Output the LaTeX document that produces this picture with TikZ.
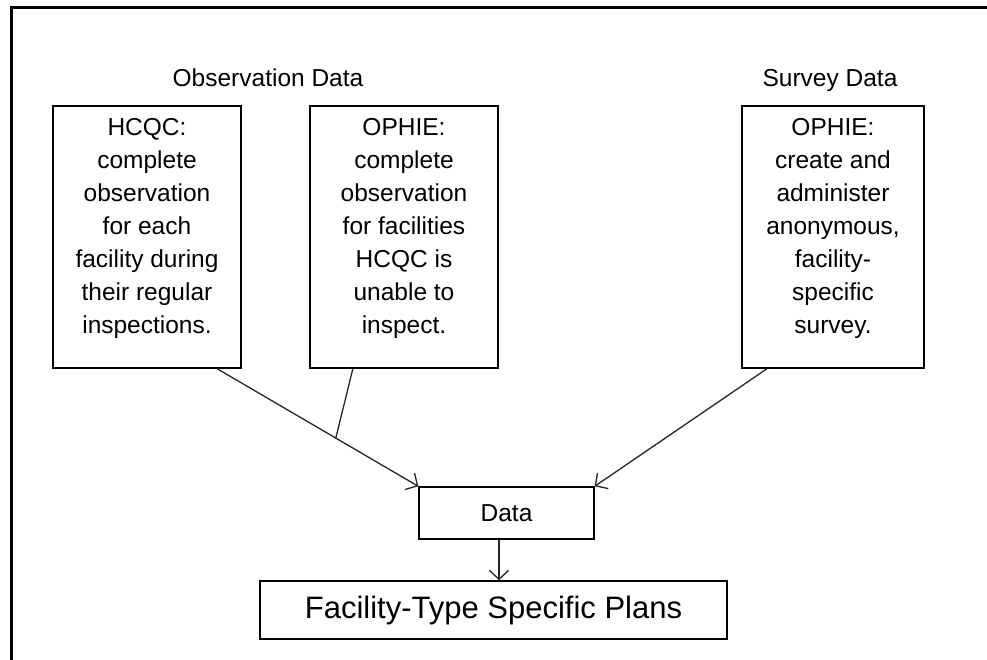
\documentclass[tikz,border=0pt]{standalone}
\usepackage{fontspec}
\setmainfont{Liberation Sans}
\usetikzlibrary{arrows.meta,calc}
\begin{document}
\begin{tikzpicture}[x=1pt,y=-1pt,
  boxstyle/.style={draw=black,line width=1.4pt,inner sep=0pt},
  boxtext/.style={align=center,inner sep=0pt,anchor=north,
    font=\fontsize{24.5}{33}\selectfont},
  headtext/.style={inner sep=0pt,anchor=base,font=\fontsize{24.5}{33}\selectfont},
  conn/.style={draw=black!85,line width=1.3pt},
  arr/.style={conn,-{Straight Barb[length=9pt,width=19pt,line width=1.3pt]}}]
\useasboundingbox (0,0) rectangle (987,660);
\fill[white] (0,0) rectangle (987,660);
% frame
\draw[line width=3pt] (11,660) -- (11,8) -- (990,8);
% headings
\node[headtext] (hobs) at (268,87) {Observation Data};
\node[headtext] (hsur) at (830,87) {Survey Data};
% boxes
\node[boxstyle,minimum width=188pt,minimum height=262pt] (b1) at (147,237) {};
\node[boxstyle,minimum width=188pt,minimum height=262pt] (b2) at (404,237) {};
\node[boxstyle,minimum width=182pt,minimum height=262pt] (b3) at (833,237) {};
\node[boxtext] (t1) at ([yshift=-12.5pt]b1.north) {HCQC:\\complete\\observation\\for each\\facility during\\their regular\\inspections.};
\node[boxtext] (t2) at ([yshift=-12.5pt]b2.north) {OPHIE:\\complete\\observation\\for facilities\\HCQC is\\unable to\\inspect.};
\node[boxtext] (t3) at ([yshift=-12.5pt]b3.north) {OPHIE:\\create and\\administer\\anonymous,\\facility-\\specific\\survey.};
% data and plans
\node[boxstyle,minimum width=175pt,minimum height=52pt,font=\fontsize{24.5}{33}\selectfont] (d) at (506.5,513) {Data};
\node[boxstyle,minimum width=467pt,minimum height=58pt,font=\fontsize{31}{36}\selectfont] (p) at (493.5,610) {Facility-Type Specific Plans};
% connectors
\coordinate (s1) at ($(b1.south west)!0.87!(b1.south east)$);
\coordinate (s2) at ($(b2.south west)!0.23!(b2.south east)$);
\coordinate (s3) at ($(b3.south west)!0.14!(b3.south east)$);
\coordinate (j) at ($(s1)!0.59!(d.north west)$);
\coordinate (ds) at ($(d.south)+(-7.5,0)$);
\draw[arr] (s1) -- (d.north west);
\draw[conn] (s2) -- (j);
\draw[arr] (s3) -- (d.north east);
\draw[arr] (ds) -- (ds |- p.north);
\end{tikzpicture}
\end{document}
